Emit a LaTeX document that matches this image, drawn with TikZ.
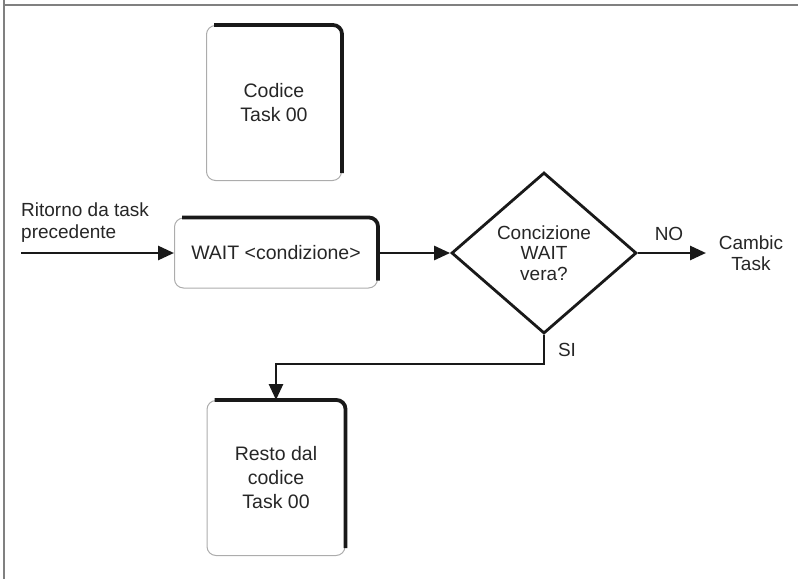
\documentclass[tikz,border=0pt]{standalone}
\usepackage{fontspec}
\setmainfont{Liberation Sans}
\usetikzlibrary{arrows.meta, positioning, shapes.geometric}

\begin{document}
\begin{tikzpicture}[x=1pt, y=-1pt,
    box/.style={draw=gray!65, line width=1pt, rounded corners=9pt,
                inner sep=0pt, align=center, text=black!85,
                font=\fontsize{19.5}{24}\selectfont},
    rim/.style={draw=black!90, line width=3.8pt, rounded corners=9pt},
    test/.style={diamond, draw=black!90, line width=2.8pt, inner sep=0pt,
                 minimum width=185pt, minimum height=161pt, align=center,
                 text=black!85},
    lbl/.style={inner sep=0pt, align=center, text=black!85},
    flow/.style={draw=black!90, line width=2.7pt, -{Triangle[length=16pt, width=14pt]}},
    every node/.append style={font=\fontsize{19}{20.5}\selectfont}
  ]
  \useasboundingbox (0,0) rectangle (798,579);
  % frame
  \draw[gray, line width=2pt] (3,5) -- (798,5);
  \draw[gray, line width=1.5pt] (4,0) -- (4,579);

  \node[box, minimum width=135pt, minimum height=155pt] (code) at (274,103) {Codice\\Task 00};
  \node[box, minimum width=203pt, minimum height=70pt]  (wait) at (276,253) {WAIT <condizione>};
  \node[box, minimum width=138pt, minimum height=155pt] (rest) at (276,478) {Resto dal\\codice\\Task 00};
  \node[test] (cond) at (544,253) {Concizione\\WAIT\\vera?};

  \draw[rim] ([xshift=8pt]code.north west) -- (code.north east) -- ([yshift=8pt]code.south east);
  \draw[rim] ([xshift=8pt]wait.north west) -- (wait.north east) -- ([yshift=8pt]wait.south east);
  \draw[rim] ([xshift=8pt]rest.north west) -- (rest.north east) -- ([yshift=8pt]rest.south east);

  \node[lbl, anchor=north west, align=left, font=\fontsize{19}{22}\selectfont] (back) at (21,203) {Ritorno da task\\precedente};
  \node[lbl] (swap) at (751,253) {Cambic\\Task};
  \node[lbl] (no) at (669,234) {NO};
  \node[lbl] (yes) at (567,350) {SI};

  \coordinate (in) at (21,253);
  \coordinate (out) at (706,253);
  \coordinate (bend) at (544,364);

  \draw[flow] (in) -- (wait.west);
  \draw[flow] (wait.east) -- (cond.west);
  \draw[flow] (cond.east) -- (out);
  \draw[flow] (cond.south) -- (bend) -| (rest.north);
\end{tikzpicture}
\end{document}
